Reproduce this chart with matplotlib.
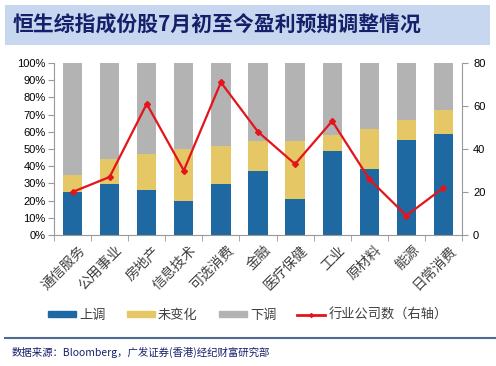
import matplotlib
matplotlib.use("Agg")
import matplotlib.pyplot as plt
from matplotlib.patches import Rectangle
from matplotlib.lines import Line2D
import numpy as np

plt.rcParams['font.family'] = ['Noto Sans CJK SC', 'DejaVu Sans']

categories = ['通信服务', '公用事业', '房地产', '信息技术', '可选消费', '金融', '医疗保健', '工业', '原材料', '能源', '日常消费']
up = [25, 29.7, 26.2, 19.8, 29.7, 37.3, 21, 48.9, 38.4, 55.3, 58.8]
up_plus_same = [35, 44.3, 47.2, 50.1, 51.8, 54.4, 54.8, 58.3, 61.7, 66.6, 72.8]
same = [b - a for a, b in zip(up, up_plus_same)]
down = [100 - b for b in up_plus_same]
counts = [20, 27, 61, 30, 71, 48, 33, 53, 26, 9, 22]

c_up = '#1F69A3'
c_same = '#E5C766'
c_down = '#B3B3B3'
c_line = '#E3141B'

fig = plt.figure(figsize=(4.96, 3.66), dpi=100)
W, H = 496, 366

# header band
fig.patches.append(Rectangle((5 / W, 1 - 45 / H), 485 / W, 40 / H, transform=fig.transFigure,
                             facecolor='#C6D7EF', edgecolor='none'))
fig.text(13 / W, 1 - 25 / H, '恒生综指成份股7月初至今盈利预期调整情况', fontsize=15, fontweight='bold',
         color='#16206A', va='center', ha='left')

ax = fig.add_axes([54 / W, 1 - 235 / H, (462 - 54) / W, (235 - 63) / H])
x = np.arange(len(categories))
w = 0.52
ax.bar(x, up, w, color=c_up, label='上调')
ax.bar(x, same, w, bottom=up, color=c_same, label='未变化')
ax.bar(x, down, w, bottom=up_plus_same, color=c_down, label='下调')
ax.set_ylim(0, 100)
ax.set_xlim(-0.5, len(categories) - 0.5)
ax.set_yticks(np.arange(0, 101, 10))
ax.set_yticklabels([f'{v}%' for v in range(0, 101, 10)], fontsize=8, family=['Liberation Sans'])
ax.set_xticks(x + 0.15)
ax.set_xticklabels(categories, rotation=45, ha='right', rotation_mode='anchor', fontsize=10, color='#404040')
ax.set_xticks(np.arange(-0.5, len(categories), 1), minor=True)
ax.tick_params(axis='x', which='major', length=0, pad=6)
ax.tick_params(axis='x', which='minor', length=4, color='#999999')
ax.tick_params(axis='y', length=4, color='#999999', pad=2)
for s in ['top', 'right']:
    ax.spines[s].set_visible(False)
ax.spines['left'].set_color('#999999')
ax.spines['bottom'].set_color('#999999')

ax2 = ax.twinx()
ax2.plot(x, counts, color=c_line, lw=1.6, marker='D', ms=3, label='行业公司数（右轴）')
ax2.set_ylim(0, 80)
ax2.set_yticks(np.arange(0, 81, 20))
ax2.set_yticklabels([str(v) for v in range(0, 81, 20)], fontsize=8, family=['Liberation Sans'])
ax2.tick_params(axis='y', length=4, color='#999999', pad=4)
for s in ['top', 'left', 'bottom']:
    ax2.spines[s].set_visible(False)
ax2.spines['right'].set_color('#999999')

handles = [Rectangle((0, 0), 1, 1, color=c_up), Rectangle((0, 0), 1, 1, color=c_same),
           Rectangle((0, 0), 1, 1, color=c_down), Line2D([0], [0], color=c_line, lw=2, marker='D', ms=2)]
labels = ['上调', '未变化', '下调', '行业公司数（右轴）']
fig.legend(handles, labels, loc='center', bbox_to_anchor=(248 / W, 1 - 315 / H), ncol=4, frameon=False,
           fontsize=9.5, handlelength=2.1, handleheight=0.4, columnspacing=1.6, handletextpad=0.25,
           labelcolor='#404040')

fig.add_artist(Line2D([5 / W, 495 / W], [1 - 338 / H, 1 - 338 / H], transform=fig.transFigure,
                      color='#4F6B93', lw=1.5))
fig.text(12 / W, 1 - 352 / H, '数据来源：Bloomberg，广发证券(香港)经纪财富研究部', fontsize=7.5, color='#16206A',
         va='center', ha='left', family=['Noto Sans CJK SC'])

fig.savefig('out.png', dpi=100)
